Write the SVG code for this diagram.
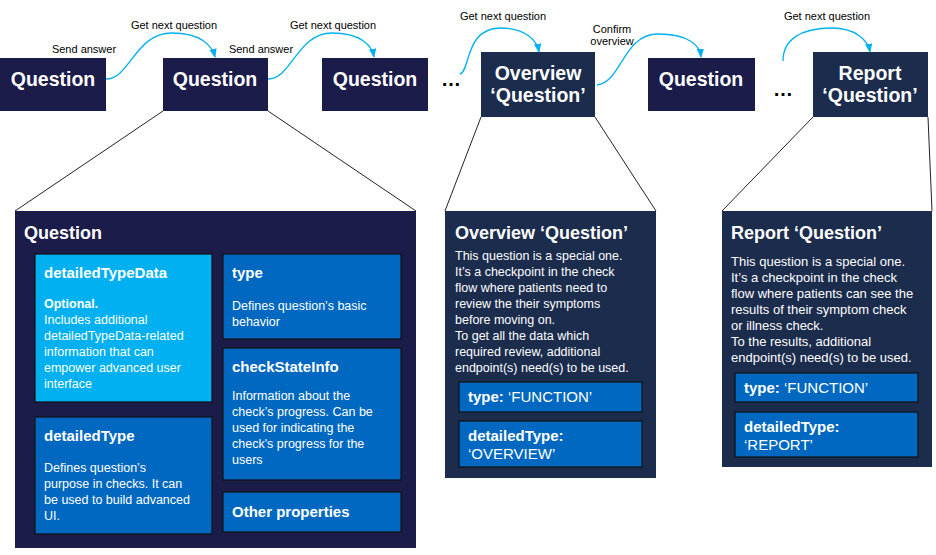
<svg xmlns="http://www.w3.org/2000/svg" width="936" height="555" viewBox="0 0 936 555">
<style>
.n{fill:#1c1c4a}.o{fill:#1b2c4d}
.nt{font-family:"Liberation Sans",Arial,sans-serif;font-weight:bold;fill:#fff;font-size:19.5px;text-anchor:middle}
.lb{font-family:"Liberation Sans",Arial,sans-serif;font-size:11px;fill:#000;text-anchor:middle}
.c{fill:none;stroke:#00b0f0;stroke-width:1.3}
.cl{stroke:#222;stroke-width:1}
.b{fill:#0068c0;stroke:#111;stroke-width:1.2}
.lt{fill:#00b0f0;stroke:#111;stroke-width:1.2}
.h{font-family:"Liberation Sans",Arial,sans-serif;font-weight:bold;fill:#fff;font-size:15px}
.ph{font-family:"Liberation Sans",Arial,sans-serif;font-weight:bold;fill:#fff;font-size:18px}
.t{font-family:"Liberation Sans",Arial,sans-serif;fill:#fff;font-size:12.5px}
.r{font-size:13px}
.k{font-size:15px}
.dots{font-family:"Liberation Sans",Arial,sans-serif;font-weight:bold;fill:#000;font-size:20px}
</style>
<defs><marker id="a" viewBox="0 0 10 10" refX="9" refY="5" markerWidth="7" markerHeight="7" orient="auto"><path d="M0,1 L10,5 L0,9 z" fill="#00b0f0"/></marker></defs>
<g id="callouts">
<line class="cl" x1="163" y1="111" x2="15" y2="211"/><line class="cl" x1="268" y1="111" x2="416" y2="211"/>
<line class="cl" x1="481" y1="117" x2="445" y2="211"/><line class="cl" x1="595" y1="117" x2="656" y2="211"/>
<line class="cl" x1="813" y1="117" x2="722" y2="211"/><line class="cl" x1="928" y1="117" x2="932" y2="211"/>
</g>
<g id="q1"><rect class="n" x="0" y="58" width="106" height="53"/><text class="nt" x="53" y="86">Question</text></g>
<g id="q2"><rect class="n" x="163" y="58" width="105" height="53"/><text class="nt" x="215" y="86">Question</text></g>
<g id="q3"><rect class="n" x="322" y="58" width="106" height="53"/><text class="nt" x="375" y="86">Question</text></g>
<g id="ov"><rect class="o" x="481" y="52" width="114" height="65"/><text class="nt" x="538" y="80">Overview</text><text class="nt" x="538" y="102">‘Question’</text></g>
<g id="q5"><rect class="n" x="648" y="58" width="107" height="53"/><text class="nt" x="701" y="86">Question</text></g>
<g id="rep"><rect class="o" x="813" y="52" width="115" height="65"/><text class="nt" x="870" y="80">Report</text><text class="nt" x="870" y="102">‘Question’</text></g>
<text class="dots" x="441" y="86">…</text><text class="dots" x="773" y="96">…</text>
<g id="connectors">
<path class="c" marker-end="url(#a)" d="M106,79 C130,79 135,33 172,33 C200,33 212,45 215,57"/>
<path class="c" marker-end="url(#a)" d="M268,79 C292,79 297,33 332,33 C360,33 372,45 374,57"/>
<path class="c" marker-end="url(#a)" d="M460,74 C470,72 465,28 500,28 C525,28 537,40 539,52"/>
<path class="c" marker-end="url(#a)" d="M597,85 C622,82 623,34 658,34 C688,34 700,45 701,57"/>
<path class="c" marker-end="url(#a)" d="M783,61 C783,40 800,28 832,28 C855,28 868,40 870,52"/>
<text class="lb" x="84" y="53">Send answer</text>
<text class="lb" x="174" y="29">Get next question</text>
<text class="lb" x="261" y="53">Send answer</text>
<text class="lb" x="333" y="29">Get next question</text>
<text class="lb" x="503" y="20">Get next question</text>
<text class="lb" x="612" y="33">Confirm</text><text class="lb" x="612" y="45">overview</text>
<text class="lb" x="827" y="20">Get next question</text>
</g>
<g id="panel-question">
<rect class="n" x="15" y="211" width="401" height="337"/>
<text class="ph" x="24" y="239">Question</text>
<rect class="lt" x="35" y="254" width="177" height="148"/>
<text class="h" x="44" y="278">detailedTypeData</text>
<text class="t" x="44" y="308"><tspan font-weight="bold">Optional.</tspan><tspan x="44" dy="16">Includes additional</tspan><tspan x="44" dy="16">detailedTypeData-related</tspan><tspan x="44" dy="16">information that can</tspan><tspan x="44" dy="16">empower advanced user</tspan><tspan x="44" dy="16">interface</tspan></text>
<rect class="b" x="223" y="254" width="178" height="85"/>
<text class="h" x="232" y="278">type</text>
<text class="t" x="232" y="310">Defines question’s basic<tspan x="232" dy="16">behavior</tspan></text>
<rect class="b" x="223" y="348" width="178" height="132"/>
<text class="h" x="232" y="372">checkStateInfo</text>
<text class="t" x="232" y="400">Information about the<tspan x="232" dy="16">check’s progress. Can be</tspan><tspan x="232" dy="16">used for indicating the</tspan><tspan x="232" dy="16">check's progress for the</tspan><tspan x="232" dy="16">users</tspan></text>
<rect class="b" x="35" y="417" width="177" height="117"/>
<text class="h" x="44" y="441">detailedType</text>
<text class="t" x="44" y="472">Defines question’s<tspan x="44" dy="16">purpose in checks. It can</tspan><tspan x="44" dy="16">be used to build advanced</tspan><tspan x="44" dy="16">UI.</tspan></text>
<rect class="b" x="223" y="492" width="178" height="40"/>
<text class="h" x="232" y="517">Other properties</text>
</g>
<g id="panel-overview">
<rect class="o" x="445" y="211" width="211" height="267"/>
<text class="ph" x="455" y="239">Overview ‘Question’</text>
<text class="t" x="455" y="260">This question is a special one.<tspan x="455" dy="16">It’s a checkpoint in the check</tspan><tspan x="455" dy="16">flow where patients need to</tspan><tspan x="455" dy="16">review the their symptoms</tspan><tspan x="455" dy="16">before moving on.</tspan><tspan x="455" dy="16">To get all the data which</tspan><tspan x="455" dy="16">required review, additional</tspan><tspan x="455" dy="16">endpoint(s) need(s) to be used.</tspan></text>
<rect class="b" x="459" y="382" width="183" height="30"/>
<text class="t k" x="468" y="402"><tspan font-weight="bold">type:</tspan> ‘FUNCTION’</text>
<rect class="b" x="459" y="421" width="183" height="46"/>
<text class="t k" x="468" y="441"><tspan font-weight="bold">detailedType:</tspan><tspan x="468" dy="18">‘OVERVIEW’</tspan></text>
</g>
<g id="panel-report">
<rect class="o" x="722" y="211" width="210" height="256"/>
<text class="ph" x="731" y="239">Report ‘Question’</text>
<text class="t r" x="731" y="266">This question is a special one.<tspan x="731" dy="16">It’s a checkpoint in the check</tspan><tspan x="731" dy="16">flow where patients can see the</tspan><tspan x="731" dy="16">results of their symptom check</tspan><tspan x="731" dy="16">or illness check.</tspan><tspan x="731" dy="16">To the results, additional</tspan><tspan x="731" dy="16">endpoint(s) need(s) to be used.</tspan></text>
<rect class="b" x="735" y="373" width="183" height="29"/>
<text class="t k" x="744" y="393"><tspan font-weight="bold">type:</tspan> ‘FUNCTION’</text>
<rect class="b" x="735" y="412" width="183" height="45"/>
<text class="t k" x="744" y="432"><tspan font-weight="bold">detailedType:</tspan><tspan x="744" dy="18">‘REPORT’</tspan></text>
</g>
</svg>
